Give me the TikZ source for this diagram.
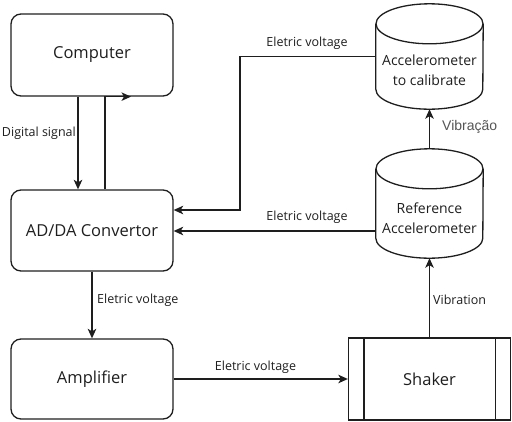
\documentclass[tikz,border=0pt]{standalone}
\usepackage{fontspec}
\setmainfont{Open Sans}
\newfontfamily\arialfont{Liberation Sans}
\usetikzlibrary{arrows.meta,calc}
\definecolor{ink}{HTML}{1E1E1E}
\definecolor{greytext}{HTML}{555555}
\tikzset{
  line/.style={draw=ink,line width=1.3pt},
  arr/.style={line,-{Stealth[length=9.5pt,width=8.5pt,inset=2.5pt]}},
  box/.style={line,rounded corners=10pt,minimum width=162pt,inner sep=0pt,font=\fontsize{16.5}{20}\selectfont,text=ink},
  cylbox/.style={minimum width=107pt,inner sep=0pt},
  cyltext/.style={align=center,font=\fontsize{14}{20}\selectfont,text=ink,inner sep=0pt},
  lbl/.style={font=\fontsize{12.5}{15}\selectfont,text=ink,inner sep=0pt},
}
\newcommand\drawcyl[1]{%
  \draw[line] ([yshift=-20pt]#1.north west) -- ([yshift=20pt]#1.south west)
     arc[start angle=180,end angle=360,x radius=53.5pt,y radius=20pt]
     -- ([yshift=-20pt]#1.north east);
  \draw[line] ([yshift=-20pt]#1.north) ellipse[x radius=53.5pt,y radius=20pt];
}
\begin{document}
\begin{tikzpicture}[x=1pt,y=-1pt]
\useasboundingbox (0,0) rectangle (512,421);
% blocks
\node[box,minimum height=82pt] (comp) at (92,55) {Computer};
\node[box,minimum height=81pt] (adda) at (92,230.5) {AD/DA Convertor};
\node[box,minimum height=80pt] (amp) at (92,379) {Amplifier};
\node[line,minimum width=162pt,minimum height=82pt,inner sep=0pt,font=\fontsize{16.5}{20}\selectfont,text=ink] (shaker) at (429.5,379) {Shaker};
\draw[line] ([xshift=16pt]shaker.north west) -- ([xshift=16pt]shaker.south west);
\draw[line] ([xshift=-16pt]shaker.north east) -- ([xshift=-16pt]shaker.south east);
% cylinders
\node[cylbox,minimum height=105pt] (acc) at (429.5,56.5) {};
\drawcyl{acc}
\node[cyltext] (acct) at (429.5,70) {Accelerometer\\to calibrate};
\node[cylbox,minimum height=109pt] (ref) at (429.5,203.5) {};
\drawcyl{ref}
\node[cyltext] (reft) at (429.5,218) {Reference\\Accelerometer};
% helper coordinates
\coordinate (c1) at (78,0);
\coordinate (c2) at (105,0);
\coordinate (c3) at (131,0);
\coordinate (k1) at (240,210);
\coordinate (k2) at (0,231);
% connectors
\draw[arr] (c1 |- comp.south) -- (c1 |- adda.north);
\draw[arr] (c2 |- adda.north) -- (c2 |- comp.south) -- (c3 |- comp.south);
\node[lbl,anchor=east] (dsig) at (76,133) {Digital signal};
\draw[arr] (acc.west) -| (k1) -- (k1 -| adda.east);
\node[lbl] (ev1) at (307,43) {Eletric voltage};
\draw[arr] (ref.west |- k2) -- (adda.east |- k2);
\node[lbl] (ev2) at (307,217) {Eletric voltage};
\draw[arr] (adda.south) -- (amp.north);
\node[lbl,anchor=west] (ev3) at (97,300) {Eletric voltage};
\draw[arr] (amp.east) -- (shaker.west);
\node[lbl] (ev4) at (255.5,367) {Eletric voltage};
\draw[arr] (shaker.north) -- (ref.south);
\node[lbl,anchor=west] (vib) at (433,300) {Vibration};
\draw[arr] (ref.north) -- (acc.south);
\node[lbl,anchor=west,text=greytext,font=\arialfont\fontsize{14}{16}\selectfont] (vibr) at (442,127) {Vibração};
\end{tikzpicture}
\end{document}
